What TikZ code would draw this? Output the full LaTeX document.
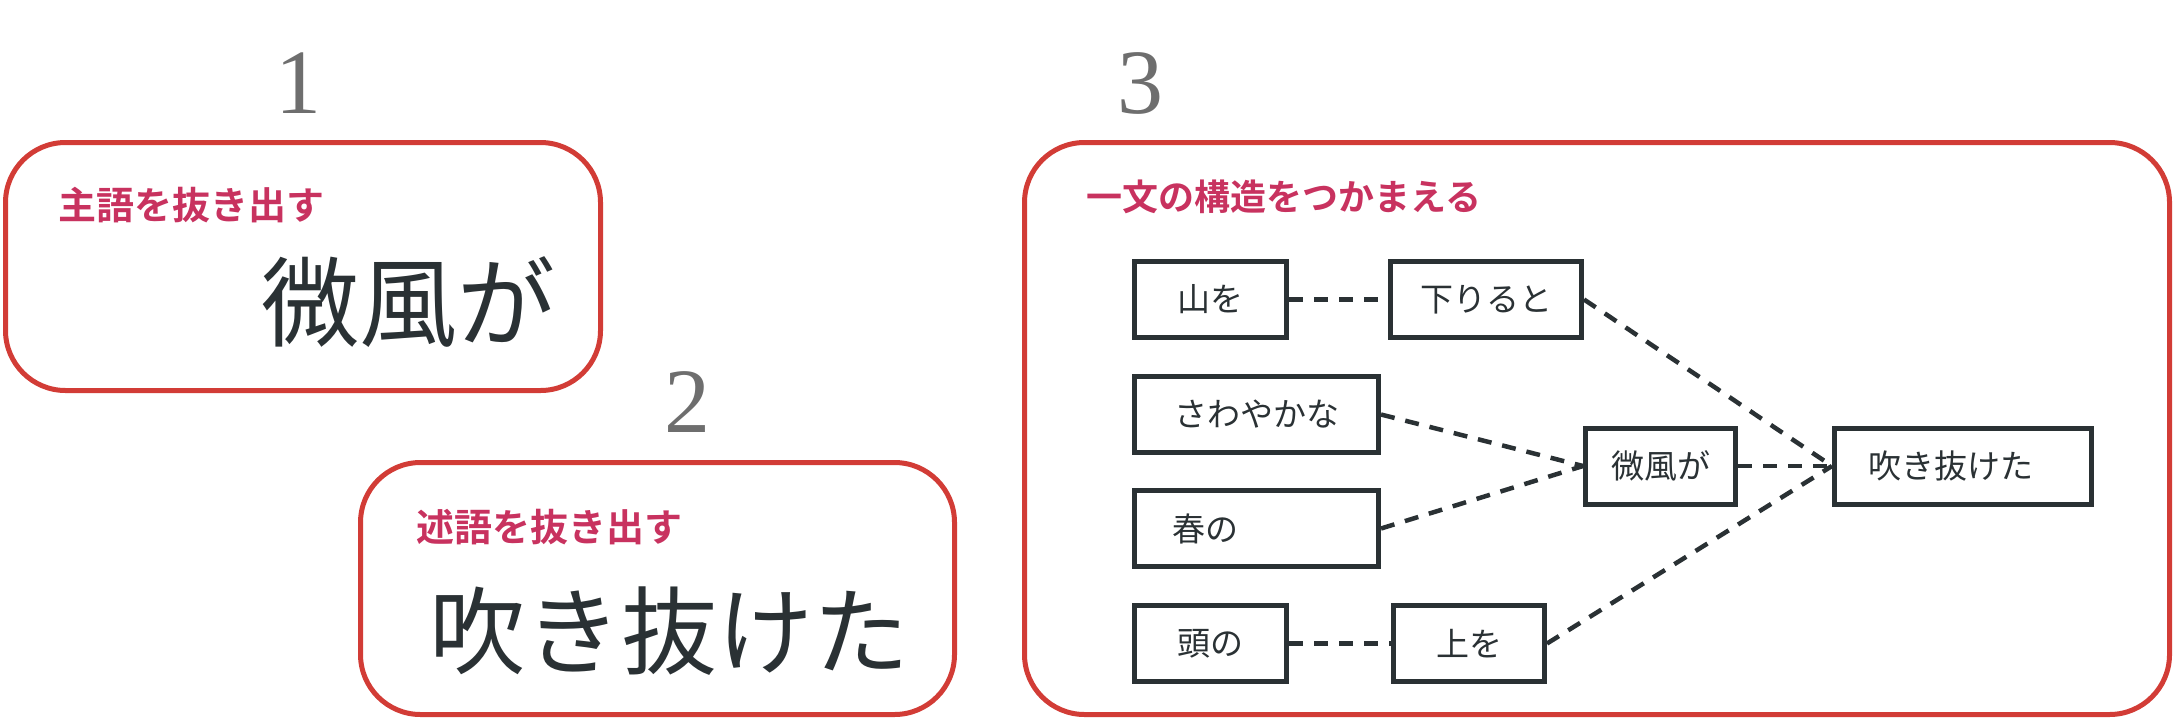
\documentclass[tikz,border=0pt]{standalone}
\usepackage{fontspec}
\newfontfamily\jp{Noto Sans CJK JP}
\newfontfamily\jpb{Noto Sans CJK JP Bold}
\newfontfamily\numfont{Liberation Serif}
\definecolor{frame}{HTML}{D23C36}
\definecolor{label}{HTML}{C8325F}
\definecolor{ink}{HTML}{2A3134}
\definecolor{num}{HTML}{6E6E6E}
\tikzset{
  panel/.style={draw=frame, line width=5pt, rounded corners=60pt},
  numlab/.style={text=num, font=\numfont\fontsize{92}{92}\selectfont},
  headlab/.style={text=label, font=\jpb\fontsize{38}{38}\selectfont, anchor=west, inner sep=0pt},
  bigword/.style={text=ink, font=\jp\fontsize{98}{98}\selectfont, inner sep=0pt},
  wbox/.style={draw=ink, line width=5pt, text=ink, font=\jp\fontsize{33}{33}\selectfont, minimum height=76pt, inner sep=0pt},
  link/.style={draw=ink, line width=4.5pt, dash pattern=on 14pt off 11pt}
}
\begin{document}
\begin{tikzpicture}[x=1pt,y=-1pt]
\useasboundingbox (0,0) rectangle (2175,720);
% panels
\draw[panel] (5.5,142.5) rectangle (600.5,390.5);
\draw[panel] (360.5,462.5) rectangle (954.5,714.5);
\draw[panel] (1024.5,142.5) rectangle (2169.5,714.5);
% numbers
\node[numlab] (n1) at (298,83) {1};
\node[numlab] (n2) at (687,402) {2};
\node[numlab] (n3) at (1140,83) {3};
% headings
\node[headlab] (h1) at (58,205) {主語を抜き出す};
\node[headlab] (h2) at (416,527) {述語を抜き出す};
\node[headlab, font=\jpb\fontsize{36}{36}\selectfont] (h3) at (1086,197) {一文の構造をつかまえる};
% big words
\node[bigword] (subj) at (408,302) {微風が};
\node[bigword, font=\jp\fontsize{96}{96}\selectfont] (pred) at (669,631) {吹き抜けた};
% structure boxes
\node[wbox, minimum width=152pt] (yama) at (1210.5,299.5) {山を};
\node[wbox, minimum width=191pt] (oriru) at (1486,299.5) {下りると};
\node[wbox, minimum width=244pt] (sawa) at (1256.5,414.5) {さわやかな};
\node[wbox, text width=168pt, inner xsep=38pt, align=left] (haru) at (1256.5,528.5) {春の};
\node[wbox, minimum width=150pt] (bifu) at (1660.5,466) {微風が};
\node[wbox, text width=189pt, inner xsep=34pt, align=left] (fuki) at (1963,466) {吹き抜けた};
\node[wbox, minimum width=152pt] (atama) at (1210.5,643.5) {頭の};
\node[wbox, minimum width=151pt] (ue) at (1469,643.5) {上を};
% connectors
\draw[link] (yama.east) -- (oriru.west);
\draw[link] (atama.east) -- (ue.west);
\draw[link] (sawa.east) -- (bifu.west);
\draw[link] (haru.east) -- (bifu.west);
\draw[link] (bifu.east) -- (fuki.west);
\draw[link] (oriru.east) -- (fuki.west);
\draw[link] (ue.east) -- (fuki.west);
\end{tikzpicture}
\end{document}
